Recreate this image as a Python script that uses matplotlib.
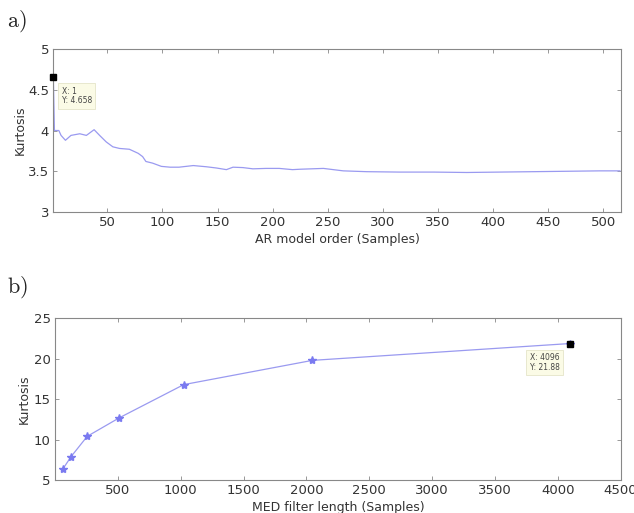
import matplotlib
matplotlib.use("Agg")
import matplotlib.pyplot as plt

# ---- data (a): kurtosis vs AR model order ----
ar_order = [1, 2, 6, 8, 12, 17, 25, 31, 38, 43, 49, 55, 61, 70, 78, 82, 85, 91, 99,
            107, 115, 128, 140, 149, 158, 164, 173, 182, 194, 206, 218, 225, 246,
            255, 264, 285, 315, 346, 376, 406, 437, 467, 497, 515]
ar_kurt = [4.658, 4.00, 4.00, 3.94, 3.88, 3.94, 3.96, 3.94, 4.01, 3.94, 3.86, 3.80,
           3.78, 3.77, 3.72, 3.68, 3.62, 3.60, 3.56, 3.55, 3.55, 3.57, 3.555, 3.54,
           3.52, 3.55, 3.545, 3.53, 3.535, 3.535, 3.52, 3.525, 3.535, 3.52, 3.505,
           3.495, 3.49, 3.49, 3.485, 3.49, 3.495, 3.50, 3.505, 3.505]

# ---- data (b): kurtosis vs MED filter length ----
med_len = [64, 128, 256, 512, 1024, 2048, 4096]
med_kurt = [6.4, 7.9, 10.4, 12.7, 16.8, 19.8, 21.88]

a_xticks = [50, 100, 150, 200, 250, 300, 350, 400, 450, 500]
a_yticks = [3, 3.5, 4, 4.5, 5]
b_xticks = [500, 1000, 1500, 2000, 2500, 3000, 3500, 4000, 4500]
b_yticks = [5, 10, 15, 20, 25]

plt.rcParams['mathtext.fontset'] = 'cm'
plt.rcParams['font.family'] = ['DejaVu Sans']

fig = plt.figure(figsize=(6.34, 5.13), dpi=100)
line_c = '#9a9af0'
text_c = '#333333'
spine_c = '#888888'

def style(ax):
    for s in ax.spines.values():
        s.set_color(spine_c)
        s.set_linewidth(0.8)
    ax.tick_params(direction='in', top=True, right=True, length=3, width=0.6,
                   color=spine_c, labelsize=9.5, labelcolor=text_c, pad=3)

tip_box = dict(boxstyle='square,pad=0.45', fc='#fbfbe6', ec='#e0e0c0', lw=0.5)

# (a)
ax1 = fig.add_axes([0.0841, 0.5867, 0.8954, 0.3178])
ax1.plot(ar_order, ar_kurt, color=line_c, lw=0.9)
ax1.set_xlim(1, 516)
ax1.set_ylim(3, 5)
ax1.set_xticks(a_xticks)
ax1.set_yticks(a_yticks)
ax1.set_yticklabels(['3', '3.5', '4', '4.5', '5'])
style(ax1)
ax1.set_xlabel('AR model order (Samples)', fontsize=9, color=text_c, labelpad=3)
ax1.set_ylabel('Kurtosis', fontsize=9, color=text_c, labelpad=1)
ax1.plot([ar_order[0]], [ar_kurt[0]], marker='s', color='black', ms=5, clip_on=False, zorder=5)
ax1.annotate('X: 1\nY: 4.658', xy=(ar_order[0], ar_kurt[0]), xytext=(6, -7),
             textcoords='offset points', fontsize=5.5, color='#444444', va='top', ha='left',
             linespacing=1.1, bbox=tip_box)

# (b)
ax2 = fig.add_axes([0.0868, 0.0643, 0.8922, 0.3152])
ax2.plot(med_len, med_kurt, color=line_c, lw=0.9, marker='*', ms=6,
         mfc='#7a7af0', mec='#7a7af0')
ax2.set_xlim(0, 4500)
ax2.set_ylim(5, 25)
ax2.set_xticks(b_xticks)
ax2.set_yticks(b_yticks)
style(ax2)
ax2.set_xlabel('MED filter length (Samples)', fontsize=9, color=text_c, labelpad=3)
ax2.set_ylabel('Kurtosis', fontsize=9, color=text_c, labelpad=2)
ax2.plot([med_len[-1]], [med_kurt[-1]], marker='s', color='black', ms=5, zorder=5)
ax2.annotate('X: 4096\nY: 21.88', xy=(med_len[-1], med_kurt[-1]), xytext=(-29, -7),
             textcoords='offset points', fontsize=5.5, color='#444444', va='top', ha='left',
             linespacing=1.1, bbox=tip_box)

fig.text(0.011, 0.959, r'$\mathrm{a)}$', fontsize=16, color='#222222', ha='left', va='center')
fig.text(0.011, 0.44, r'$\mathrm{b)}$', fontsize=16, color='#222222', ha='left', va='center')

fig.savefig('out.png', dpi=100, facecolor='white')
